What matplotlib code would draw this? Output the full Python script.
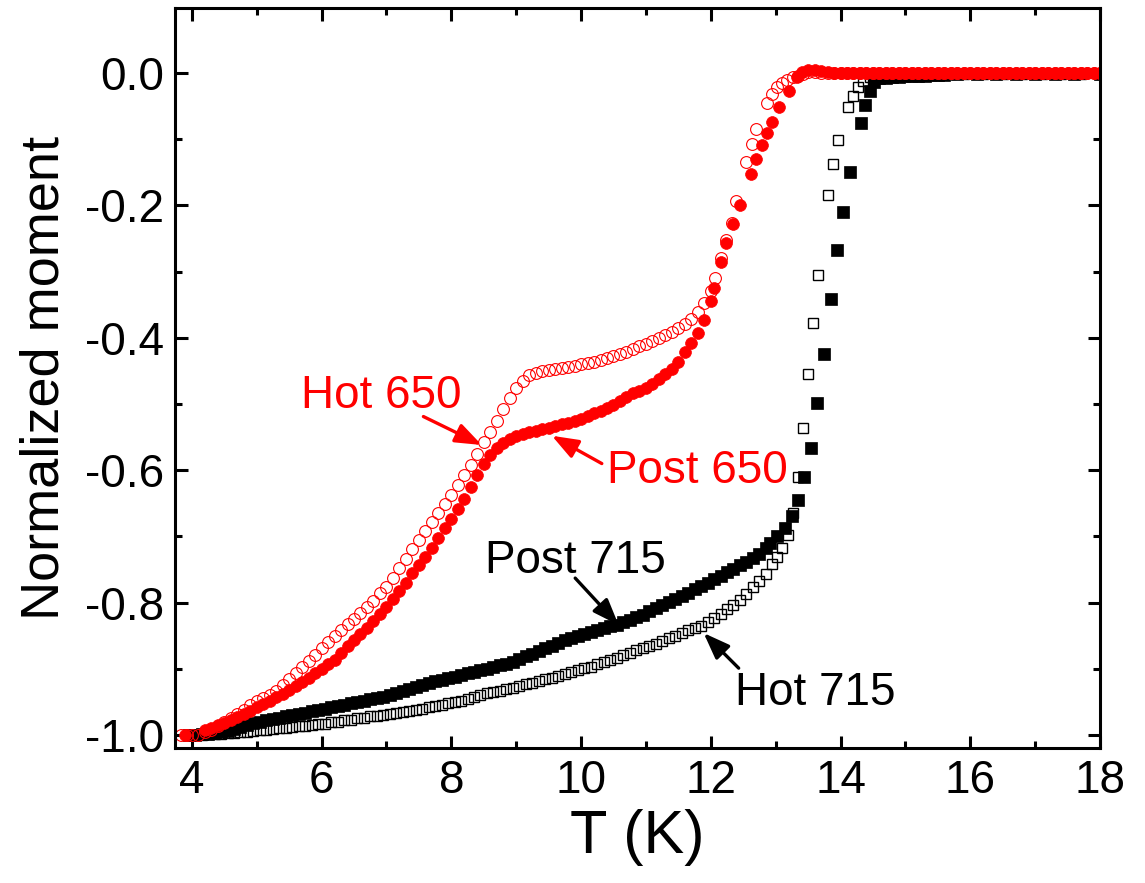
import matplotlib
matplotlib.use("Agg")
import matplotlib.pyplot as plt
from matplotlib.ticker import MultipleLocator

plt.rcParams["font.family"] = ["Liberation Sans", "DejaVu Sans"]
plt.rcParams["axes.unicode_minus"] = False

# Hot 650 (open red circles)
hot650_T = [3.84, 3.92, 4.00, 4.10, 4.20, 4.30, 4.40, 4.50, 4.60, 4.70, 4.80, 4.90,
            5.00, 5.10, 5.20, 5.30, 5.40, 5.50, 5.60, 5.70, 5.80, 5.90, 6.00, 6.10,
            6.20, 6.30, 6.40, 6.50, 6.60, 6.70, 6.80, 6.90, 7.00, 7.10, 7.20, 7.30,
            7.40, 7.50, 7.60, 7.70, 7.80, 7.90, 8.00, 8.10, 8.20, 8.30, 8.40, 8.50,
            8.60, 8.70, 8.80, 8.90, 9.00, 9.10, 9.20, 9.30, 9.40, 9.50, 9.60, 9.70,
            9.80, 9.90, 10.00, 10.10, 10.20, 10.30, 10.40, 10.50, 10.60, 10.70, 10.80,
            10.90, 11.00, 11.10, 11.20, 11.30, 11.40, 11.50, 11.60, 11.70, 11.80, 11.90,
            12.00, 12.07, 12.15, 12.24, 12.33, 12.39, 12.55, 12.63, 12.70, 12.87, 12.95,
            13.02, 13.10, 13.18, 13.26, 13.34, 13.42, 13.50, 13.60, 13.70, 13.80, 13.90,
            14.00, 14.10, 14.20, 14.30, 14.40, 14.50, 14.60, 14.70, 14.80, 14.90, 15.00,
            15.10, 15.20, 15.30, 15.40, 15.50, 15.60, 15.70, 15.80, 15.90, 16.00, 16.10,
            16.20, 16.30, 16.40, 16.50, 16.60, 16.70, 16.80, 16.90, 17.00, 17.10, 17.20,
            17.30, 17.40, 17.50, 17.60, 17.70, 17.80, 17.90, 18.00]
hot650_m = [-1.000, -1.000, -1.000, -1.000, -0.996, -0.992, -0.987, -0.981, -0.975, -0.969,
            -0.962, -0.955, -0.949, -0.944, -0.939, -0.933, -0.925, -0.916, -0.907, -0.898,
            -0.888, -0.879, -0.869, -0.860, -0.851, -0.842, -0.833, -0.825, -0.816, -0.807,
            -0.798, -0.786, -0.776, -0.763, -0.748, -0.734, -0.719, -0.705, -0.692, -0.678,
            -0.664, -0.651, -0.637, -0.623, -0.608, -0.592, -0.575, -0.558, -0.543, -0.526,
            -0.508, -0.491, -0.476, -0.465, -0.457, -0.453, -0.450, -0.448, -0.447, -0.445,
            -0.444, -0.442, -0.440, -0.438, -0.436, -0.433, -0.431, -0.428, -0.425, -0.421,
            -0.417, -0.413, -0.409, -0.405, -0.401, -0.396, -0.391, -0.385, -0.379, -0.372,
            -0.361, -0.348, -0.330, -0.309, -0.280, -0.252, -0.226, -0.194, -0.135, -0.107,
            -0.085, -0.046, -0.032, -0.022, -0.015, -0.010, -0.006, -0.004, -0.001, 0.002,
            0.001, 0.000, 0.000, 0.000, 0.000, 0.000, 0.000, 0.000, 0.000, 0.000,
            0.000, 0.000, 0.000, 0.000, 0.000, 0.000, 0.000, 0.000, 0.000, 0.000,
            0.000, 0.000, 0.000, 0.000, 0.000, 0.000, 0.000, 0.000, 0.000, 0.000,
            0.000, 0.000, 0.000, 0.000, 0.000, 0.000, 0.000, 0.000, 0.000, 0.000,
            0.000, 0.000, 0.000, 0.000, 0.000]

# Post 650 (filled red circles)
post650_T = [3.89, 4.20, 4.30, 4.40, 4.50, 4.60, 4.70, 4.80, 4.90, 5.00, 5.10, 5.20,
             5.30, 5.40, 5.50, 5.60, 5.70, 5.80, 5.90, 6.00, 6.10, 6.20, 6.30, 6.40,
             6.50, 6.60, 6.70, 6.80, 6.90, 7.00, 7.10, 7.20, 7.30, 7.40, 7.50, 7.60,
             7.70, 7.80, 7.90, 8.00, 8.10, 8.20, 8.30, 8.40, 8.50, 8.60, 8.70, 8.80,
             8.90, 9.00, 9.10, 9.20, 9.30, 9.40, 9.50, 9.60, 9.70, 9.80, 9.90, 10.00,
             10.10, 10.20, 10.30, 10.40, 10.50, 10.60, 10.70, 10.80, 10.90, 11.00, 11.10,
             11.20, 11.30, 11.40, 11.50, 11.60, 11.70, 11.80, 11.90, 12.00, 12.05, 12.15,
             12.24, 12.34, 12.45, 12.62, 12.70, 12.79, 12.87, 12.95, 13.05, 13.21, 13.33,
             13.40, 13.50, 13.60, 13.70, 13.80, 13.90, 14.00, 14.10, 14.20, 14.30, 14.40,
             14.50, 14.60, 14.70, 14.80, 14.90, 15.00, 15.10, 15.20, 15.30, 15.40, 15.50,
             15.60, 15.70, 15.80, 15.90, 16.00, 16.10, 16.20, 16.30, 16.40, 16.50, 16.60,
             16.70, 16.80, 16.90, 17.00, 17.10, 17.20, 17.30, 17.40, 17.50, 17.60, 17.70,
             17.80, 17.90, 18.00]
post650_m = [-1.000, -0.992, -0.989, -0.985, -0.982, -0.978, -0.973, -0.968, -0.963, -0.958,
             -0.953, -0.948, -0.943, -0.938, -0.932, -0.926, -0.920, -0.914, -0.907, -0.900,
             -0.893, -0.886, -0.876, -0.866, -0.857, -0.848, -0.838, -0.828, -0.817, -0.806,
             -0.794, -0.782, -0.770, -0.756, -0.743, -0.731, -0.717, -0.702, -0.687, -0.673,
             -0.658, -0.643, -0.626, -0.608, -0.591, -0.577, -0.566, -0.559, -0.553, -0.549,
             -0.546, -0.543, -0.541, -0.538, -0.536, -0.533, -0.531, -0.528, -0.525, -0.522,
             -0.518, -0.514, -0.510, -0.506, -0.502, -0.496, -0.490, -0.484, -0.480, -0.476,
             -0.470, -0.462, -0.455, -0.447, -0.436, -0.422, -0.408, -0.393, -0.373, -0.345,
             -0.325, -0.285, -0.257, -0.228, -0.200, -0.152, -0.130, -0.109, -0.090, -0.074,
             -0.052, -0.027, -0.006, 0.002, 0.004, 0.004, 0.003, 0.001, 0.000, 0.000,
             0.000, 0.000, 0.000, 0.000, 0.000, 0.000, 0.000, 0.000, 0.000, 0.000,
             0.000, 0.000, 0.000, 0.000, 0.000, 0.000, 0.000, 0.000, 0.000, 0.000,
             0.000, 0.000, 0.000, 0.000, 0.000, 0.000, 0.000, 0.000, 0.000, 0.000,
             0.000, 0.000, 0.000, 0.000, 0.000, 0.000, 0.000, 0.000, 0.000, 0.000]

# Hot 715 (open black squares)
hot715_T = [4.05, 4.15, 4.25, 4.35, 4.45, 4.55, 4.65, 4.75, 4.85, 4.95, 5.05, 5.15,
            5.25, 5.35, 5.45, 5.55, 5.65, 5.75, 5.85, 5.95, 6.05, 6.15, 6.25, 6.35,
            6.45, 6.55, 6.65, 6.75, 6.85, 6.95, 7.05, 7.15, 7.25, 7.35, 7.45, 7.55,
            7.65, 7.75, 7.85, 7.95, 8.05, 8.15, 8.25, 8.35, 8.45, 8.55, 8.65, 8.75,
            8.85, 8.95, 9.05, 9.15, 9.25, 9.35, 9.45, 9.55, 9.65, 9.75, 9.85, 9.95,
            10.05, 10.15, 10.25, 10.35, 10.45, 10.55, 10.65, 10.75, 10.85, 10.95, 11.05,
            11.15, 11.25, 11.35, 11.45, 11.55, 11.65, 11.75, 11.85, 11.95, 12.05, 12.15,
            12.25, 12.35, 12.45, 12.55, 12.65, 12.75, 12.85, 12.95, 13.02, 13.10, 13.19,
            13.26, 13.34, 13.42, 13.50, 13.58, 13.65, 13.81, 13.89, 13.96, 14.11, 14.20,
            14.27, 14.35, 14.45, 14.55, 14.70, 14.90, 15.10, 15.30, 15.50, 15.70, 15.90,
            16.20, 16.50, 16.80, 17.10, 17.40, 17.70, 18.00]
hot715_m = [-1.000, -1.000, -0.999, -0.999, -0.998, -0.997, -0.997, -0.996, -0.995, -0.994,
            -0.993, -0.992, -0.991, -0.990, -0.989, -0.988, -0.987, -0.986, -0.985, -0.984,
            -0.983, -0.981, -0.980, -0.978, -0.977, -0.975, -0.974, -0.972, -0.971, -0.970,
            -0.968, -0.967, -0.965, -0.963, -0.962, -0.960, -0.958, -0.956, -0.954, -0.952,
            -0.950, -0.948, -0.946, -0.943, -0.940, -0.937, -0.935, -0.933, -0.931, -0.929,
            -0.926, -0.923, -0.921, -0.918, -0.916, -0.914, -0.911, -0.908, -0.905, -0.902,
            -0.899, -0.897, -0.893, -0.890, -0.886, -0.883, -0.879, -0.876, -0.872, -0.869,
            -0.865, -0.862, -0.858, -0.854, -0.850, -0.846, -0.842, -0.839, -0.835, -0.829,
            -0.824, -0.817, -0.810, -0.803, -0.796, -0.787, -0.777, -0.768, -0.757, -0.742,
            -0.731, -0.718, -0.698, -0.665, -0.611, -0.536, -0.455, -0.378, -0.305, -0.184,
            -0.137, -0.102, -0.052, -0.035, -0.022, -0.012, -0.006, -0.004, -0.003, -0.003,
            -0.002, -0.002, -0.002, -0.002, -0.001, -0.001, -0.001, -0.001, -0.001, -0.001,
            -0.001, -0.001]

# Post 715 (filled black squares)
post715_T = [3.95, 4.05, 4.15, 4.25, 4.35, 4.45, 4.55, 4.65, 4.75, 4.85, 4.95, 5.05,
             5.15, 5.25, 5.35, 5.45, 5.55, 5.65, 5.75, 5.85, 5.95, 6.05, 6.15, 6.25,
             6.35, 6.45, 6.55, 6.65, 6.75, 6.85, 6.95, 7.05, 7.15, 7.25, 7.35, 7.45,
             7.55, 7.65, 7.75, 7.85, 7.95, 8.05, 8.15, 8.25, 8.35, 8.45, 8.55, 8.65,
             8.75, 8.85, 8.95, 9.05, 9.15, 9.25, 9.35, 9.45, 9.55, 9.65, 9.75, 9.85,
             9.95, 10.05, 10.15, 10.25, 10.35, 10.45, 10.55, 10.65, 10.75, 10.85, 10.95,
             11.05, 11.15, 11.25, 11.35, 11.45, 11.55, 11.65, 11.75, 11.85, 11.95, 12.05,
             12.15, 12.25, 12.35, 12.45, 12.55, 12.65, 12.75, 12.85, 12.92, 13.02, 13.14,
             13.25, 13.35, 13.43, 13.54, 13.64, 13.74, 13.85, 13.95, 14.04, 14.14, 14.31,
             14.38, 14.46, 14.51, 14.60, 14.70, 14.80, 14.90, 15.00, 15.10, 15.20, 15.30,
             15.40, 15.50, 15.60, 15.80, 16.10, 16.40, 16.70, 17.00, 17.30, 17.60, 18.00]
post715_m = [-1.000, -1.000, -0.999, -0.998, -0.997, -0.996, -0.994, -0.991, -0.988, -0.985,
             -0.982, -0.980, -0.978, -0.976, -0.974, -0.972, -0.970, -0.968, -0.966, -0.964,
             -0.962, -0.960, -0.958, -0.956, -0.954, -0.952, -0.950, -0.948, -0.946, -0.944,
             -0.942, -0.939, -0.937, -0.934, -0.931, -0.928, -0.925, -0.922, -0.919, -0.917,
             -0.914, -0.912, -0.910, -0.907, -0.905, -0.902, -0.900, -0.898, -0.895, -0.892,
             -0.889, -0.885, -0.881, -0.877, -0.873, -0.869, -0.865, -0.861, -0.857, -0.854,
             -0.850, -0.847, -0.844, -0.841, -0.839, -0.836, -0.834, -0.830, -0.826, -0.822,
             -0.818, -0.813, -0.808, -0.804, -0.799, -0.795, -0.790, -0.785, -0.780, -0.775,
             -0.771, -0.765, -0.760, -0.754, -0.749, -0.743, -0.738, -0.732, -0.726, -0.718,
             -0.710, -0.700, -0.688, -0.669, -0.645, -0.611, -0.567, -0.499, -0.425, -0.342,
             -0.267, -0.210, -0.149, -0.076, -0.048, -0.027, -0.013, -0.008, -0.007, -0.006,
             -0.006, -0.005, -0.005, -0.004, -0.004, -0.003, -0.003, -0.003, -0.002, -0.002,
             -0.001, -0.001, -0.001, -0.001, -0.001, -0.001]

# Label text, anchor (T, m) of its baseline, arrow tail and arrow tip
labels = ["Hot 650", "Post 650", "Post 715", "Hot 715"]
label_colors = ["red", "red", "black", "black"]
label_xy = [(8.16, -0.506), (10.40, -0.620), (8.52, -0.756), (12.37, -0.955)]
label_ha = ["right", "left", "left", "left"]
arrow_tail = [(7.57, -0.519), (10.32, -0.590), (9.91, -0.763), (12.43, -0.899)]
arrow_tip = [(8.47, -0.562), (9.55, -0.548), (10.58, -0.834), (11.89, -0.846)]

fig = plt.figure(figsize=(11.45, 8.83), dpi=100)
ax = fig.add_axes([0.1528, 0.1529, 0.8079, 0.8380])

ax.plot(hot715_T, hot715_m, ls="none", marker="s", ms=7.4, mfc="none",
        mec="black", mew=1.0)
ax.plot(post715_T, post715_m, ls="none", marker="s", ms=8.0, mfc="black",
        mec="black", mew=0.5)
ax.plot(hot650_T, hot650_m, ls="none", marker="o", ms=8.5, mfc="none",
        mec="red", mew=0.8)
ax.plot(post650_T, post650_m, ls="none", marker="o", ms=8.5, mfc="red",
        mec="red", mew=0.5)

for text, col, xy, ha, tail, tip in zip(labels, label_colors, label_xy, label_ha,
                                        arrow_tail, arrow_tip):
    ax.text(xy[0], xy[1], text, color=col, fontsize=33, ha=ha, va="baseline")
    ax.annotate("", xy=tip, xytext=tail,
                arrowprops=dict(arrowstyle="-|>,head_length=0.8,head_width=0.3",
                                mutation_scale=20, lw=2.4, color=col,
                                shrinkA=0, shrinkB=0))

ax.set_xlim(3.74, 18.0)
ax.set_ylim(-1.0196, 0.098)
ax.xaxis.set_major_locator(MultipleLocator(2))
ax.xaxis.set_minor_locator(MultipleLocator(1))
ax.yaxis.set_major_locator(MultipleLocator(0.2))
ax.yaxis.set_minor_locator(MultipleLocator(0.1))
ax.yaxis.set_major_formatter(plt.FormatStrFormatter("%.1f"))

ax.tick_params(which="both", direction="in", top=True, right=True, width=2.2)
ax.tick_params(which="major", length=9, labelsize=33, pad=8)
ax.tick_params(which="minor", length=5)
for sp in ax.spines.values():
    sp.set_linewidth(2.2)

ax.set_xlabel("T (K)", fontsize=44, labelpad=4)
ax.set_ylabel("Normalized moment", fontsize=39, labelpad=11)

fig.savefig("out.png", dpi=100)
